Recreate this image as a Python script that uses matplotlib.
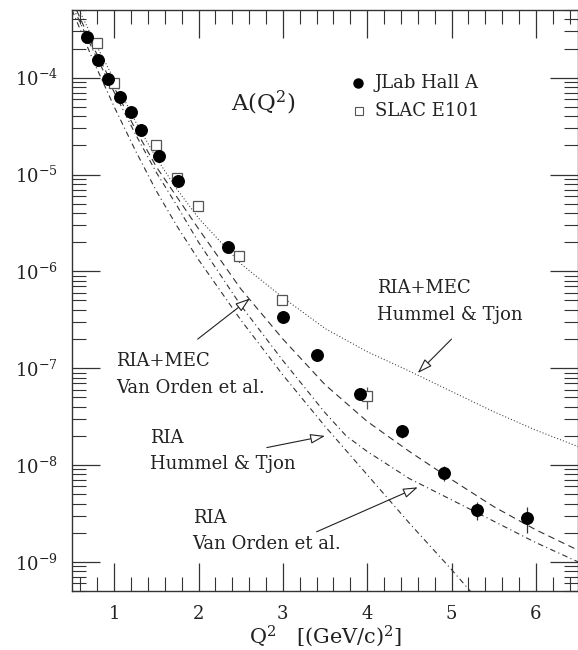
import matplotlib

matplotlib.use("Agg")
import matplotlib.pyplot as plt  # noqa: E402
from matplotlib.ticker import FixedLocator, LogLocator, MultipleLocator, NullFormatter  # noqa: E402

# JLab Hall A data
jlab_q2 = [0.675, 0.81, 0.93, 1.07, 1.20, 1.32, 1.53, 1.76, 2.35, 3.00, 3.41, 3.91, 4.41, 4.91, 5.30, 5.90]
jlab_a = [2.65e-4, 1.52e-4, 9.7e-5, 6.3e-5, 4.4e-5, 2.86e-5, 1.56e-5, 8.5e-6,
          1.78e-6, 3.38e-7, 1.36e-7, 5.4e-8, 2.25e-8, 8.3e-9, 3.4e-9, 2.85e-9]
jlab_err = [0, 0, 0, 0, 0, 0, 0, 0, 0, 1.5e-8, 8e-9, 4e-9, 3.5e-9, 1.4e-9, 7e-10, 8.5e-10]

# SLAC E101 data
slac_q2 = [0.80, 1.00, 1.49, 1.74, 1.99, 2.48, 2.99, 4.00]
slac_a = [2.28e-4, 8.8e-5, 2.04e-5, 9.1e-6, 4.7e-6, 1.43e-6, 5.0e-7, 5.1e-8]
slac_err = [1.5e-5, 6e-6, 1.5e-6, 7e-7, 4e-7, 1.2e-7, 5e-8, 1.3e-8]

# theory curves
mec_ht_q2 = [0.5, 0.75, 1.0, 1.25, 1.5, 1.75, 2.0, 2.5, 3.0, 3.5, 4.0, 4.5, 5.0, 5.5, 6.0, 6.5]
mec_ht_a = [7.08e-4, 2.51e-4, 9.55e-5, 3.55e-5, 1.48e-5, 6.92e-6, 3.55e-6, 1.20e-6,
            5.37e-7, 2.57e-7, 1.48e-7, 9.33e-8, 5.75e-8, 3.55e-8, 2.29e-8, 1.55e-8]

mec_vo_q2 = [0.5, 0.75, 1.0, 1.25, 1.5, 1.75, 2.0, 2.5, 3.0, 3.5, 4.0, 4.5, 5.0, 5.5, 6.0, 6.5]
mec_vo_a = [6.31e-4, 2.09e-4, 7.94e-5, 2.95e-5, 1.20e-5, 5.75e-6, 2.75e-6, 6.61e-7,
            2.00e-7, 6.76e-8, 2.82e-8, 1.38e-8, 7.08e-9, 3.72e-9, 2.14e-9, 1.32e-9]

ria_vo_q2 = [0.5, 0.75, 1.0, 1.25, 1.5, 1.75, 2.0, 2.5, 3.0, 3.5, 3.75, 4.0, 4.5, 5.0, 5.5, 6.0, 6.5]
ria_vo_a = [5.62e-4, 1.91e-4, 7.08e-5, 2.63e-5, 1.05e-5, 4.68e-6, 2.00e-6, 4.47e-7, 1.20e-7,
            3.47e-8, 2.00e-8, 1.38e-8, 7.24e-9, 4.37e-9, 2.63e-9, 1.58e-9, 1.00e-9]

ria_ht_q2 = [0.5, 0.75, 1.0, 1.25, 1.5, 1.75, 2.0, 2.5, 3.0, 3.5, 4.0, 4.5, 5.0, 5.25]
ria_ht_a = [5.01e-4, 1.51e-4, 5.01e-5, 1.78e-5, 6.76e-6, 2.88e-6, 1.32e-6, 3.16e-7,
            8.51e-8, 2.51e-8, 7.94e-9, 2.51e-9, 8.32e-10, 4.68e-10]

y_ticks = [1e-9, 1e-8, 1e-7, 1e-6, 1e-5, 1e-4]
y_tick_labels = [r"$10^{-9}$", r"$10^{-8}$", r"$10^{-7}$", r"$10^{-6}$", r"$10^{-5}$", r"$10^{-4}$"]

plt.rcParams["font.family"] = ["DejaVu Serif"]
plt.rcParams["mathtext.fontset"] = "dejavuserif"

fig = plt.figure(figsize=(5.78, 6.5), dpi=100)
ax = fig.add_axes([0.1246, 0.0908, 0.8754, 0.8938])
ink = "#333333"
txt = "#222222"

ax.plot(mec_ht_q2, mec_ht_a, color=ink, lw=0.75, ls=(0, (1, 2)))
ax.plot(mec_vo_q2, mec_vo_a, color=ink, lw=0.8, ls=(0, (6, 4)))
ax.plot(ria_vo_q2, ria_vo_a, color=ink, lw=0.8, ls=(0, (5, 3, 1, 3)))
ax.plot(ria_ht_q2, ria_ht_a, color=ink, lw=0.8, ls=(0, (5, 3, 1, 3)))

ax.errorbar(slac_q2, slac_a, yerr=slac_err, fmt="s", ms=6.5, mfc="white", mec="#555555",
            mew=0.9, ecolor="#555555", elinewidth=0.9, capsize=0, zorder=3)
ax.errorbar(jlab_q2, jlab_a, yerr=jlab_err, fmt="o", ms=8.3, mfc="black", mec="black",
            ecolor="#333333", elinewidth=0.9, capsize=0, zorder=4)

ax.set_yscale("log")
ax.set_xlim(0.5, 6.5)
ax.set_ylim(5e-10, 5e-4)

ax.xaxis.set_major_locator(MultipleLocator(1))
ax.xaxis.set_minor_locator(MultipleLocator(0.2))
ax.yaxis.set_major_locator(FixedLocator(y_ticks))
ax.yaxis.set_minor_locator(LogLocator(base=10, subs=range(2, 10), numticks=20))
ax.yaxis.set_minor_formatter(NullFormatter())
ax.set_yticklabels(y_tick_labels)
ax.tick_params(which="both", direction="in", top=True, right=True, colors=ink)
ax.tick_params(which="major", length=20, width=0.9, labelsize=13, pad=10, labelcolor=txt)
ax.tick_params(which="minor", length=10, width=0.8)
for sp in ax.spines.values():
    sp.set_color(ink)
    sp.set_linewidth(1.0)

ax.set_xlabel(r"Q$^2$   [(GeV/c)$^2$]", fontsize=15, color=txt, labelpad=0)

tsize = 13
ax.text(2.39, 10 ** -4.26, r"A(Q$^2$)", fontsize=16.5, va="center", ha="left", color=txt)
ax.plot([3.89], [10 ** -4.05], "o", color="black", ms=6.5)
ax.text(4.09, 10 ** -4.05, "JLab Hall A", fontsize=tsize, va="center", color=txt)
ax.plot([3.90], [10 ** -4.34], "s", mfc="white", mec="#555555", ms=6, mew=0.8)
ax.text(4.09, 10 ** -4.34, "SLAC E101", fontsize=tsize, va="center", color=txt)

ax.text(4.12, 10 ** -6.175, "RIA+MEC", fontsize=tsize, va="center", color=txt)
ax.text(4.12, 10 ** -6.45, "Hummel & Tjon", fontsize=tsize, va="center", color=txt)
ax.text(1.02, 10 ** -6.93, "RIA+MEC", fontsize=tsize, va="center", color=txt)
ax.text(1.02, 10 ** -7.20, "Van Orden et al.", fontsize=tsize, va="center", color=txt)
ax.text(1.43, 10 ** -7.72, "RIA", fontsize=tsize, va="center", color=txt)
ax.text(1.43, 10 ** -7.99, "Hummel & Tjon", fontsize=tsize, va="center", color=txt)
ax.text(1.93, 10 ** -8.55, "RIA", fontsize=tsize, va="center", color=txt)
ax.text(1.93, 10 ** -8.82, "Van Orden et al.", fontsize=tsize, va="center", color=txt)

arrow = dict(arrowstyle="-|>,head_length=0.9,head_width=0.3", color=txt, lw=0.8,
             fc="white", shrinkA=0, shrinkB=0)
ax.annotate("", xy=(4.60, 10 ** -7.05), xytext=(5.00, 10 ** -6.70), arrowprops=arrow)
ax.annotate("", xy=(2.61, 10 ** -6.28), xytext=(1.99, 10 ** -6.70), arrowprops=arrow)
ax.annotate("", xy=(3.50, 10 ** -7.70), xytext=(2.81, 10 ** -7.82), arrowprops=arrow)
ax.annotate("", xy=(4.60, 10 ** -8.23), xytext=(3.40, 10 ** -8.69), arrowprops=arrow)

fig.savefig("out.png", dpi=100)
